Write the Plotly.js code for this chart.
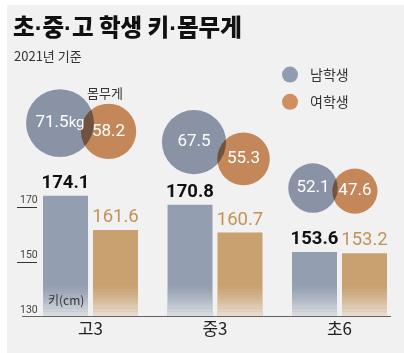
<!DOCTYPE html>
<html>
<head>
<meta charset="utf-8">
<script src="https://cdn.plot.ly/plotly-3.0.1.min.js"></script>
<style>
html,body{margin:0;padding:0;background:#fff;}
#chart{width:404px;height:353px;}
</style>
</head>
<body>
<div id="chart"></div>
<script>
// ---- data ----
const categories = ['고3', '중3', '초6'];
const maleHeight = [174.1, 170.8, 153.6];
const femaleHeight = [161.6, 160.7, 153.2];
const maleWeight = [71.5, 67.5, 52.1];
const femaleWeight = [58.2, 55.3, 47.6];
const yTickValues = [130, 150, 170];
const seriesNames = ['남학생', '여학생'];

// ---- layout constants (positions / styles) ----
const KR = '"Noto Sans CJK KR", "Noto Sans", sans-serif';
const NUM = 'Roboto, "Liberation Sans", sans-serif';
const W = 404, H = 353, ML = 17, MR = 13, MT = 0, MB = 36;
const PW = W - ML - MR, PH = H - MT - MB;
const X_RANGE = [-0.5904, -0.5904 + PW / 124.5];
const Y_RANGE = [130, 130 + PH / 2.75];
const maleBubble = {dx: [-0.245, -0.169, -0.213], y: [200.5, 193.6, 176.9]};
const femaleBubble = {dx: [0.145, 0.229, 0.124], y: [197.5, 187.5, 175.8]};
const BUBBLE_SCALE = 0.95;
const C = {
  maleBar: '#939eb1', femaleBar: '#c9a06f',
  maleDot: '#929cb0', femaleDot: '#cf8f5f',
  femaleText: '#c39257', panel: '#f1f1f1'
};
const px = v => (v - ML) / PW;          // pixel x -> paper
const py = v => (H - MB - v) / PH;      // pixel y -> paper
const DOT = '<span style="font-family:\'Liberation Sans\'">·</span>';

const idx = categories.map((_, i) => i);
const traces = [];

traces.push({
  type: 'bar', x: idx, y: maleHeight.map(v => v - 130), base: 130,
  offsetgroup: 'm', marker: {color: C.maleBar, line: {width: 0}},
  text: maleHeight.map(v => v.toFixed(1)), textposition: 'outside',
  textfont: {family: NUM, size: 18.5, color: '#111', weight: 'bold'},
  constraintext: 'none', cliponaxis: false, showlegend: false, hoverinfo: 'skip'
});
traces.push({
  type: 'bar', x: idx, y: femaleHeight.map(v => v - 130), base: 130,
  offsetgroup: 'f', marker: {color: C.femaleBar, line: {width: 0}},
  text: femaleHeight.map(v => v.toFixed(1)), textposition: 'outside',
  textfont: {family: NUM, size: 18.5, color: C.femaleText},
  constraintext: 'none', cliponaxis: false, showlegend: false, hoverinfo: 'skip'
});

// fade at the bottom of bars (style overlay)
const FADE_STEPS = 12, FADE_H = 12;
for (const g of ['m', 'f']) {
  for (let s = 0; s < FADE_STEPS; s++) {
    const a = 0.85 * Math.pow(1 - (s + 0.5) / FADE_STEPS, 1.3);
    traces.push({
      type: 'bar', x: idx, y: idx.map(() => FADE_H / FADE_STEPS),
      base: idx.map(() => 130 + s * FADE_H / FADE_STEPS),
      offsetgroup: g, marker: {color: `rgba(241,241,241,${a.toFixed(3)})`, line: {width: 0}},
      showlegend: false, hoverinfo: 'skip'
    });
  }
}

// weight bubbles
traces.push({
  type: 'scatter', mode: 'markers', name: seriesNames[0], legendgroup: 'a',
  x: idx.map(i => i + maleBubble.dx[i]), y: maleBubble.y,
  marker: {size: maleWeight.map(v => v * BUBBLE_SCALE), color: C.maleDot, line: {width: 0}, opacity: 1},
  cliponaxis: false, hoverinfo: 'skip'
});
traces.push({
  type: 'scatter', mode: 'markers', name: seriesNames[1], legendgroup: 'b',
  x: idx.map(i => i + femaleBubble.dx[i]), y: femaleBubble.y,
  marker: {size: femaleWeight.map(v => v * BUBBLE_SCALE), color: C.femaleDot, line: {width: 0}, opacity: 1},
  cliponaxis: false, hoverinfo: 'skip'
});
traces.push({
  type: 'scatter', mode: 'text', showlegend: false, hoverinfo: 'skip',
  x: idx.map(i => i + maleBubble.dx[i]), y: maleBubble.y,
  text: maleWeight.map((v, i) => i === 0 ? v.toFixed(1) + '<span style="font-size:15px">kg</span>' : v.toFixed(1)),
  textfont: {family: NUM, size: 17, color: '#fff'}, cliponaxis: false
});
traces.push({
  type: 'scatter', mode: 'text', showlegend: false, hoverinfo: 'skip',
  x: idx.map(i => i + femaleBubble.dx[i]), y: femaleBubble.y,
  text: femaleWeight.map(v => v.toFixed(1)),
  textfont: {family: NUM, size: 17, color: '#fff'}, cliponaxis: false
});

const layout = {
  width: W, height: H,
  margin: {l: ML, r: MR, t: MT, b: MB, pad: 0},
  paper_bgcolor: '#ffffff', plot_bgcolor: 'rgba(0,0,0,0)',
  barmode: 'group', bargap: 0.197, bargroupgap: 0.1,
  showlegend: true,
  legend: {
    x: px(270), y: py(59), xanchor: 'left', yanchor: 'top',
    bgcolor: 'rgba(0,0,0,0)', borderwidth: 0,
    font: {family: KR, size: 14, color: '#333'},
    traceorder: 'grouped', tracegroupgap: 6, itemwidth: 30
  },
  xaxis: {
    range: X_RANGE, tickvals: idx, ticktext: categories,
    showgrid: false, zeroline: false, showline: false, ticks: '',
    tickfont: {family: KR, size: 17, color: '#222'}, fixedrange: true
  },
  yaxis: {
    range: Y_RANGE, tickvals: yTickValues, showgrid: false, zeroline: false, showline: false,
    ticks: 'inside', ticklen: 20, tickcolor: '#333', tickwidth: 1,
    ticklabelposition: 'inside top',
    tickfont: {family: NUM, size: 10.5, color: '#444'}, fixedrange: true
  },
  shapes: [
    {type: 'rect', xref: 'paper', yref: 'paper', x0: px(7), x1: px(W + 2), y0: py(H + 2), y1: py(5),
     fillcolor: C.panel, line: {width: 0}, layer: 'below'},
    {type: 'line', xref: 'paper', yref: 'y', x0: px(22), x1: px(391), y0: 130, y1: 130,
     line: {color: '#333', width: 1.3}, layer: 'above'}
  ],
  annotations: [
    {text: '초' + DOT + '중' + DOT + '고 학생 키' + DOT + '몸무게', xref: 'paper', yref: 'paper',
     x: px(11), y: py(7), xanchor: 'left', yanchor: 'top', showarrow: false,
     font: {family: KR, size: 23.5, color: '#111', weight: 900}},
    {text: '2021년 기준', xref: 'paper', yref: 'paper', x: px(12), y: py(44),
     xanchor: 'left', yanchor: 'top', showarrow: false,
     font: {family: KR, size: 13, color: '#333'}},
    {text: '몸무게', xref: 'paper', yref: 'paper', x: px(105), y: py(93),
     xanchor: 'center', yanchor: 'middle', showarrow: false,
     font: {family: KR, size: 13, color: '#333'}},
    {text: '키(cm)', xref: 'x', yref: 'y', x: -0.36, y: 136.5,
     xanchor: 'left', yanchor: 'middle', showarrow: false,
     font: {family: KR, size: 12, color: '#333'}}
  ]
};

Plotly.newPlot('chart', traces, layout, {displayModeBar: false, staticPlot: true}).then(() => {
  document.querySelectorAll('#chart .scatterlayer .trace .points path, #chart .legend .legendpoints path')
    .forEach(p => { p.style.mixBlendMode = 'multiply'; });
});
</script>
</body>
</html>
